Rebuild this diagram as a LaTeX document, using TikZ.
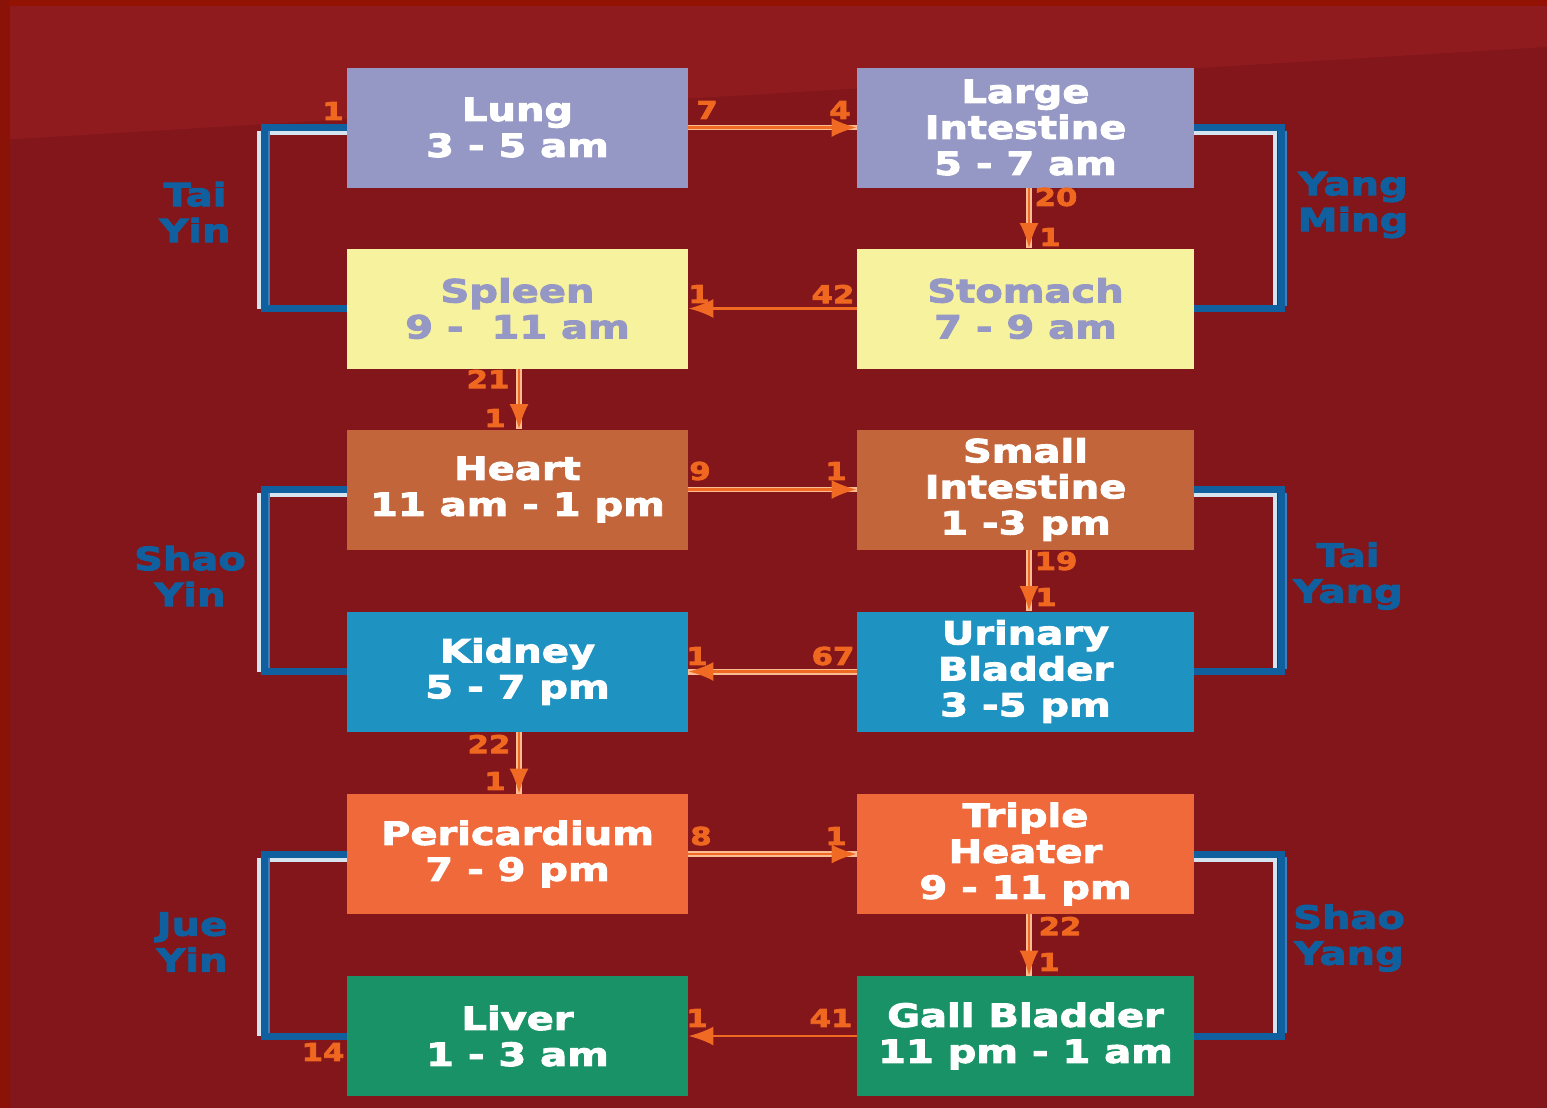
\documentclass[tikz,border=0pt]{standalone}
\usepackage{fontspec}
\usetikzlibrary{arrows.meta,calc}
\newfontfamily\heavy{DejaVu Sans}[FakeStretch=1.25,FakeBold=3]
\definecolor{bg}{RGB}{130,22,26}
\definecolor{bglight}{RGB}{143,27,31}
\definecolor{bgtop}{RGB}{148,18,2}
\definecolor{bgleft}{RGB}{138,18,6}
\definecolor{lav}{RGB}{149,151,196}
\definecolor{yel}{RGB}{246,242,158}
\definecolor{brn}{RGB}{195,101,58}
\definecolor{blu}{RGB}{30,147,194}
\definecolor{org}{RGB}{240,105,58}
\definecolor{grn}{RGB}{25,146,103}
\definecolor{arrorg}{RGB}{240,106,36}
\definecolor{peach}{RGB}{250,188,145}
\definecolor{lblorg}{RGB}{240,104,32}
\definecolor{brkblue}{RGB}{16,96,160}
\definecolor{brklight}{RGB}{214,228,240}
\definecolor{brkedge}{RGB}{58,128,190}
\tikzset{
  boxfont/.style={font=\heavy\bfseries\fontsize{16}{18}\selectfont},
  lbox/.style={boxfont, minimum width=170.5pt, minimum height=60pt, inner sep=0pt, align=center, text=white},
  rbox/.style={lbox, minimum width=168.5pt},
  lbl/.style={font=\heavy\bfseries\fontsize{12.3}{14}\selectfont, text=lblorg, inner sep=0pt},
  blab/.style={boxfont, text=brkblue, align=center, inner sep=0pt},
  tip/.style={-{Latex[length=12.5pt,width=9.5pt,color=arrorg]}},
  conn/.style={tip, draw=arrorg, line width=1.3pt, preaction={draw=peach, line width=2.6pt, arrows=-}},
  connthin/.style={tip, draw=arrorg, line width=1.3pt},
  connthick/.style={tip, draw=arrorg, line width=1.3pt, preaction={draw=peach, line width=3pt, arrows=-}},
  brk/.style={draw=brkblue, line width=3.5pt, line join=miter},
  brkl/.style={draw=brklight, line width=2pt},
  brke/.style={draw=brkedge, line width=1.5pt}
}
\begin{document}
\begin{tikzpicture}[x=0.5pt,y=-0.5pt]
\useasboundingbox (0,0) rectangle (1547,1108);
\fill[bg] (0,0) rectangle (1547,1108);
\fill[bglight] (0,0) -- (1547,0) -- (1547,47) -- (0,140) -- cycle;
\fill[bgtop] (0,0) rectangle (1547,6);
\fill[bgleft] (0,0) rectangle (10,1108);

% boxes
\node[lbox, fill=lav] (lung) at (517.5,127.5) {Lung\\3 - 5 am};
\node[rbox, fill=lav] (li) at (1025.5,127.5) {Large\\Intestine\\5 - 7 am};
\node[lbox, fill=yel, text=lav] (spleen) at (517.5,308.5) {Spleen\\9 -\ \ 11 am};
\node[rbox, fill=yel, text=lav] (stomach) at (1025.5,308.5) {Stomach\\7 - 9 am};
\node[lbox, fill=brn] (heart) at (517.5,489.5) {Heart\\11 am - 1 pm};
\node[rbox, fill=brn] (si) at (1025.5,489.5) {Small\\Intestine\\1 -3 pm};
\node[lbox, fill=blu] (kidney) at (517.5,671.5) {Kidney\\5 - 7 pm};
\node[rbox, fill=blu] (ub) at (1025.5,671.5) {Urinary\\Bladder\\3 -5 pm};
\node[lbox, fill=org] (peri) at (517.5,854) {Pericardium\\7 - 9 pm};
\node[rbox, fill=org] (th) at (1025.5,854) {Triple\\Heater\\9 - 11 pm};
\node[lbox, fill=grn] (liver) at (517.5,1036) {Liver\\1 - 3 am};
\node[rbox, fill=grn] (gb) at (1025.5,1036) {Gall Bladder\\11 pm - 1 am};

% brackets, left
\foreach \a/\b in {lung/spleen, heart/kidney, peri/liver}{
  \draw[brkl] ([yshift=-2.75pt]\a.west) -| ($(\b.west)+(-88,0)$);
  \draw[brke] ($(\a.west)+(-78,3)$) -- ($(\b.west)+(-78,-3)$);
  \draw[brk] (\a.west) -- ++(-82.5,0) |- (\b.west);
}
% brackets, right
\foreach \a/\b in {li/stomach, si/ub, th/gb}{
  \draw[brkl] ([yshift=-2.75pt]\a.east) -| ($(\b.east)+(81,0)$);
  \draw[brke] ($(\a.east)+(91.5,3)$) -- ($(\b.east)+(91.5,-3)$);
  \draw[brk] (\a.east) -- ++(87.5,0) |- (\b.east);
}

% connectors
\draw[conn] (lung.east) -- (li.west);
\draw[connthin] (stomach.west) -- (spleen.east);
\draw[conn] ([xshift=1.75pt]li.south) -- ([xshift=1.75pt]stomach.north);
\draw[conn] ([xshift=0.75pt]spleen.south) -- ([xshift=0.75pt]heart.north);
\draw[conn] (heart.east) -- (si.west);
\draw[conn] ([xshift=1.75pt]si.south) -- ([xshift=1.75pt]ub.north);
\draw[connthick] (ub.west) -- (kidney.east);
\draw[conn] ([xshift=0.75pt]kidney.south) -- ([xshift=0.75pt]peri.north);
\draw[conn] (peri.east) -- (th.west);
\draw[conn] ([xshift=1.75pt]th.south) -- ([xshift=1.75pt]gb.north);
\draw[connthin] (gb.west) -- (liver.east);

% number labels
\node[lbl] (n1) at (333,111) {1};
\node[lbl] (n2) at (707,110) {7};
\node[lbl] (n3) at (840,110) {4};
\node[lbl] (n4) at (1056,197) {20};
\node[lbl] (n5) at (1050,237) {1};
\node[lbl] (n6) at (699,294) {1};
\node[lbl] (n7) at (833,294) {42};
\node[lbl] (n8) at (488,379) {21};
\node[lbl] (n9) at (495,418) {1};
\node[lbl] (n10) at (700,471) {9};
\node[lbl] (n11) at (836,471) {1};
\node[lbl] (n12) at (1056,561) {19};
\node[lbl] (n13) at (1046,597) {1};
\node[lbl] (n14) at (697,656) {1};
\node[lbl] (n15) at (833,656) {67};
\node[lbl] (n16) at (489,744) {22};
\node[lbl] (n17) at (495,781) {1};
\node[lbl] (n18) at (701,836) {8};
\node[lbl] (n19) at (836,836) {1};
\node[lbl] (n20) at (1060,926) {22};
\node[lbl] (n21) at (1049,962) {1};
\node[lbl] (n22) at (697,1018) {1};
\node[lbl] (n23) at (831,1018) {41};
\node[lbl] (n24) at (323,1052) {14};

% bracket labels
\node[blab] (ty) at (195,212) {Tai\\Yin};
\node[blab] (sy) at (190,576) {Shao\\Yin};
\node[blab] (jy) at (192,942) {Jue\\Yin};
\node[blab] (ym) at (1353,205) {Yang\\Ming};
\node[blab] (tyg) at (1348,576) {Tai\\Yang};
\node[blab] (syg) at (1349,938) {Shao\\Yang};
\end{tikzpicture}
\end{document}
